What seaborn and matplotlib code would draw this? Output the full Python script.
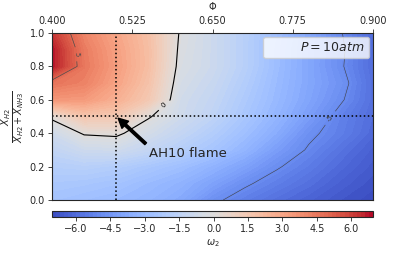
import matplotlib
matplotlib.use("Agg")
import matplotlib.pyplot as plt
from matplotlib.lines import Line2D
import numpy as np
import seaborn as sns

# grid of equivalence ratio (x) and H2 fraction (y)
phi = [0.40, 0.45, 0.50, 0.55, 0.60, 0.65, 0.70, 0.75, 0.80, 0.85, 0.90]
x_h2 = [0.0, 0.1, 0.2, 0.3, 0.4, 0.5, 0.6, 0.7, 0.8, 0.9, 1.0]

# omega_2 values, one row per H2 fraction
row_00 = [-2.6, -2.8, -3.0, -3.3, -3.8, -4.8, -5.4, -5.9, -6.3, -6.7, -7.0]
row_01 = [-2.3, -2.4, -2.6, -3.0, -3.4, -4.1, -4.85, -5.4, -5.9, -6.4, -6.8]
row_02 = [-1.9, -1.8, -2.0, -2.4, -2.8, -3.4, -4.1, -4.9, -5.5, -6.1, -6.6]
row_03 = [-1.4, -0.9, -0.8, -1.3, -1.9, -2.5, -3.3, -4.3, -5.1, -5.8, -6.4]
row_04 = [-0.8, 0.1, 0.2, -0.6, -1.3, -2.0, -2.8, -3.7, -4.8, -5.4, -6.1]
row_05 = [0.2, 1.6, 1.5, 0.1, -0.8, -1.5, -2.4, -3.3, -4.3, -5.3, -6.0]
row_06 = [3.5, 3.4, 2.6, 1.5, -0.7, -1.3, -2.2, -3.1, -4.0, -4.9, -5.9]
row_07 = [4.6, 4.2, 3.1, 1.8, -0.5, -1.1, -2.0, -3.0, -3.9, -4.7, -5.9]
row_08 = [6.8, 4.5, 3.3, 2.0, -0.3, -0.9, -1.8, -2.9, -3.9, -4.9, -6.0]
row_09 = [6.8, 4.4, 3.2, 2.0, -0.2, -0.9, -1.8, -2.9, -3.9, -4.85, -6.0]
row_10 = [6.2, 4.1, 3.0, 1.9, -0.1, -0.9, -1.8, -2.8, -3.8, -4.95, -6.0]

omega = np.array([row_00, row_01, row_02, row_03, row_04, row_05,
                  row_06, row_07, row_08, row_09, row_10])

cbar_ticks = [-6.0, -4.5, -3.0, -1.5, 0.0, 1.5, 3.0, 4.5, 6.0]
line_levels = [-5, 0, 5]
flame_phi, flame_xh2 = 0.5, 0.5

sns.set_style("ticks")
plt.rcParams["font.family"] = ["DejaVu Sans"]

fig = plt.figure(figsize=(4.15, 2.77), dpi=100)
ax = fig.add_axes([52 / 415, 77 / 277, 321 / 415, 167 / 277])
cax = fig.add_axes([52 / 415, 60 / 277, 321 / 415, 6 / 277])

cmap = sns.color_palette("coolwarm", as_cmap=True)
cf = ax.contourf(phi, x_h2, omega, levels=np.linspace(-7.05, 6.95, 80), cmap=cmap)
cs = ax.contour(phi, x_h2, omega, levels=line_levels,
                colors=["0.25", "k", "0.3"], linewidths=[0.4, 0.8, 0.5])
ax.clabel(cs, fmt="%d", fontsize=5, inline=True,
          manual=[(0.83, 0.5), (0.574, 0.57), (0.425, 0.87)])

ax.axhline(flame_xh2, color="k", ls=":", lw=1.1)
ax.axvline(flame_phi, color="k", ls=":", lw=1.1)
ax.annotate("AH10 flame", xy=(flame_phi + 0.003, flame_xh2 - 0.01),
            xytext=(0.551, 0.28), fontsize=9.5, va="center", ha="left",
            arrowprops=dict(facecolor="black", edgecolor="black", width=1.8,
                            headwidth=7, headlength=7, shrink=0.0))

ax.legend(handles=[Line2D([], [], ls="none")], labels=[r"$P = 10atm$"],
          loc="upper right", fontsize=9, handlelength=2.0, handletextpad=0.6,
          borderpad=0.35, framealpha=0.8, fancybox=True, borderaxespad=0.3)

ax.set_xlim(0.4, 0.9)
ax.set_ylim(0.0, 1.0)
ax.xaxis.tick_top()
ax.xaxis.set_label_position("top")
ax.set_xticks([0.4, 0.525, 0.65, 0.775, 0.9])
ax.set_xticklabels([f"{v:.3f}" for v in [0.4, 0.525, 0.65, 0.775, 0.9]])
ax.set_yticks([0.0, 0.2, 0.4, 0.6, 0.8, 1.0])
ax.set_yticklabels([f"{v:.1f}" for v in [0.0, 0.2, 0.4, 0.6, 0.8, 1.0]])
ax.tick_params(labelsize=7, length=3, width=0.6, pad=2)
ax.set_xlabel(r"$\Phi$", fontsize=7, labelpad=4)
ax.set_ylabel(r"$\frac{X_{H2}}{X_{H2}+X_{NH3}}$", fontsize=10, labelpad=2)
for s in ax.spines.values():
    s.set_linewidth(0.8)

cb = fig.colorbar(cf, cax=cax, orientation="horizontal", ticks=cbar_ticks)
cb.ax.set_xticklabels([f"{v:.1f}".replace("-", "\u2212") for v in cbar_ticks])
cb.ax.tick_params(labelsize=7, length=3, width=0.6, pad=2)
cb.set_label(r"$\omega_2$", fontsize=7, labelpad=2)
cb.outline.set_linewidth(0.8)

fig.savefig("out.png", dpi=100)
